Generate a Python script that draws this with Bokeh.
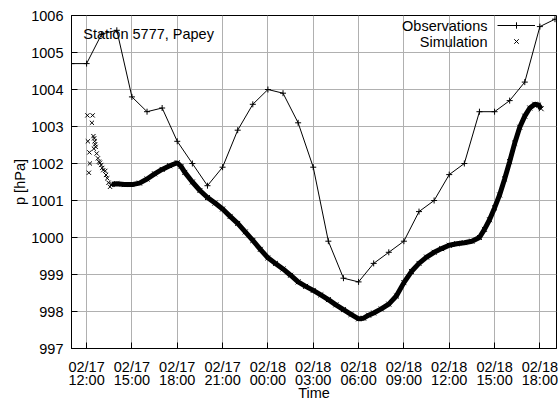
from datetime import datetime
from bokeh.plotting import figure
from bokeh.models import (Range1d, FixedTicker, DatetimeTickFormatter, DatetimeAxis,
                          Legend, LegendItem, Label)
from bokeh.embed import file_html
from bokeh.resources import INLINE

# ---------------- data ----------------
obs_time = ["02/17 11:00", "02/17 12:00", "02/17 13:00", "02/17 14:00", "02/17 15:00",
            "02/17 16:00", "02/17 17:00", "02/17 18:00", "02/17 19:00", "02/17 20:00",
            "02/17 21:00", "02/17 22:00", "02/17 23:00", "02/18 00:00", "02/18 01:00",
            "02/18 02:00", "02/18 03:00", "02/18 04:00", "02/18 05:00", "02/18 06:00",
            "02/18 07:00", "02/18 08:00", "02/18 09:00", "02/18 10:00", "02/18 11:00",
            "02/18 12:00", "02/18 13:00", "02/18 14:00", "02/18 15:00", "02/18 16:00",
            "02/18 17:00", "02/18 18:00", "02/18 19:00"]
obs_p = [1004.7, 1004.7, 1005.5, 1005.6, 1003.8, 1003.4, 1003.5, 1002.6, 1002.0, 1001.4,
         1001.9, 1002.9, 1003.6, 1004.0, 1003.9, 1003.1, 1001.9, 999.9, 998.9, 998.8,
         999.3, 999.6, 999.9, 1000.7, 1001.0, 1001.7, 1002.0, 1003.4, 1003.4, 1003.7,
         1004.2, 1005.7, 1005.9]

# simulation: spin-up phase (scattered points)
sim_spin_time = ["02/17 12:03", "02/17 12:24", "02/17 12:21", "02/17 12:05", "02/17 12:11",
                 "02/17 12:13", "02/17 12:09", "02/17 12:29", "02/17 12:27", "02/17 12:30",
                 "02/17 12:32", "02/17 12:34", "02/17 12:36", "02/17 12:40", "02/17 12:45",
                 "02/17 12:49", "02/17 12:53", "02/17 12:58", "02/17 13:02", "02/17 13:06",
                 "02/17 13:14", "02/17 13:17", "02/17 13:22", "02/17 13:27", "02/17 13:33",
                 "02/17 13:38"]
sim_spin_p = [1003.3, 1003.3, 1003.1, 1002.6, 1002.3,
              1002.0, 1001.75, 1002.4, 1002.74, 1002.68,
              1002.6, 1002.52, 1002.45, 1002.27, 1002.14,
              1002.05, 1002.02, 1001.96, 1001.88, 1001.82,
              1001.8, 1001.69, 1001.6, 1001.48, 1001.37,
              1001.42]

# simulation: main run
sim_time = ["02/17 13:40", "02/17 14:00", "02/17 14:30", "02/17 15:00", "02/17 15:30",
            "02/17 16:00", "02/17 16:30", "02/17 17:00", "02/17 17:30", "02/17 18:00",
            "02/17 18:15", "02/17 18:30", "02/17 19:00", "02/17 19:30", "02/17 20:00",
            "02/17 20:30", "02/17 21:00", "02/17 21:30", "02/17 22:00", "02/17 22:30",
            "02/17 23:00", "02/17 23:30", "02/18 00:00", "02/18 00:30", "02/18 01:00",
            "02/18 01:30", "02/18 02:00", "02/18 02:30", "02/18 03:00", "02/18 03:30",
            "02/18 04:00", "02/18 04:30", "02/18 05:00", "02/18 05:30", "02/18 06:00",
            "02/18 06:20", "02/18 06:40", "02/18 07:00", "02/18 07:30", "02/18 08:00",
            "02/18 08:30", "02/18 09:00", "02/18 09:30", "02/18 10:00", "02/18 10:30",
            "02/18 11:00", "02/18 11:30", "02/18 12:00", "02/18 12:30", "02/18 13:00",
            "02/18 13:30", "02/18 14:00", "02/18 14:20", "02/18 14:40", "02/18 15:00",
            "02/18 15:20", "02/18 15:40", "02/18 16:00", "02/18 16:20", "02/18 16:40",
            "02/18 17:00", "02/18 17:20", "02/18 17:40", "02/18 17:55", "02/18 18:05"]
sim_p = [1001.44, 1001.45, 1001.43, 1001.43, 1001.47,
         1001.58, 1001.72, 1001.84, 1001.94, 1002.02,
         1001.92, 1001.76, 1001.5, 1001.27, 1001.08,
         1000.93, 1000.77, 1000.57, 1000.38, 1000.15,
         999.92, 999.68, 999.45, 999.3, 999.15,
         998.98, 998.8, 998.68, 998.57, 998.45,
         998.32, 998.18, 998.05, 997.92, 997.8,
         997.82, 997.9, 997.96, 998.07, 998.2,
         998.42, 998.78, 999.08, 999.3, 999.47,
         999.6, 999.7, 999.79, 999.83, 999.86,
         999.9, 1000.0, 1000.22, 1000.48, 1000.8,
         1001.15, 1001.58, 1002.05, 1002.55, 1002.98,
         1003.28, 1003.5, 1003.6, 1003.58, 1003.48]

x_ticks = ["02/17 12:00", "02/17 15:00", "02/17 18:00", "02/17 21:00", "02/18 00:00",
           "02/18 03:00", "02/18 06:00", "02/18 09:00", "02/18 12:00", "02/18 15:00",
           "02/18 18:00"]
y_ticks = [997, 998, 999, 1000, 1001, 1002, 1003, 1004, 1005, 1006]
x_start, x_end = "02/17 11:00", "02/18 19:06"
y_start, y_end = 997, 1006

title_text = "Station 5777, Papey"
series_names = ["Observations", "Simulation"]


def to_dt(s):
    return datetime.strptime("2000/" + s, "%Y/%m/%d %H:%M")


def ms(s):
    return (to_dt(s) - datetime(1970, 1, 1)).total_seconds() * 1000.0


def dt_fmt(f):
    return DatetimeTickFormatter(
        microseconds=f, milliseconds=f, seconds=f, minsec=f, minutes=f,
        hourmin=f, hours=f, days=f, months=f, years=f)


FONT = "Liberation Sans"
FS = "14.5px"

p = figure(x_axis_type="datetime", width=558, height=403,
           min_border_left=71, min_border_top=15, min_border_right=2, min_border_bottom=54,
           x_range=Range1d(ms(x_start), ms(x_end)), y_range=Range1d(y_start, y_end),
           output_backend="svg", toolbar_location=None,
           background_fill_color="white", border_fill_color="white",
           outline_line_color="black", outline_line_width=1)

# grid
xt = FixedTicker(ticks=[ms(s) for s in x_ticks])
yt = FixedTicker(ticks=y_ticks)
p.xaxis.ticker = xt
p.yaxis.ticker = yt
p.xgrid.ticker = xt
p.ygrid.ticker = yt
for g in (p.xgrid[0], p.ygrid[0]):
    g.grid_line_color = "#b0b0b0"
    g.grid_line_width = 1

p.xaxis.formatter = dt_fmt("%m/%d")

for ax in (p.xaxis[0], p.yaxis[0]):
    ax.major_tick_in = 6
    ax.major_tick_out = 0
    ax.minor_tick_line_color = None
    ax.axis_line_color = "black"
    ax.major_tick_line_color = "black"
    ax.major_label_text_font = FONT
    ax.major_label_text_font_size = FS
    ax.major_label_text_color = "black"
    ax.axis_label_text_font = FONT
    ax.axis_label_text_font_size = FS
    ax.axis_label_text_font_style = "normal"
    ax.axis_label_text_color = "black"

p.xaxis.major_label_standoff = 10
p.yaxis.major_label_standoff = 8
p.yaxis.axis_label = "p [hPa]"
p.yaxis.axis_label_standoff = 0

# second row of time tick labels (hour:minute) + axis title
ax2 = DatetimeAxis(ticker=xt, formatter=dt_fmt("%H:%M"),
                   major_tick_in=0, major_tick_out=0, major_tick_line_color=None,
                   minor_tick_line_color=None, axis_line_color=None,
                   major_label_standoff=-6,
                   major_label_text_font=FONT, major_label_text_font_size=FS,
                   major_label_text_color="black",
                   axis_label="Time", axis_label_standoff=-6,
                   axis_label_text_font=FONT, axis_label_text_font_size=FS,
                   axis_label_text_font_style="normal", axis_label_text_color="black")
p.add_layout(ax2, "below")

# simulation
sim_x = [ms(s) for s in sim_time]
sim_line = p.line(sim_x, sim_p, line_color="black", line_width=5)
sim_pts = p.scatter(sim_x, sim_p, marker="x", size=7, line_color="black", line_width=1)
p.scatter([ms(s) for s in sim_spin_time], sim_spin_p, marker="x", size=6,
          line_color="black", line_width=1)

# observations
obs_x = [ms(s) for s in obs_time]
obs_line = p.line(obs_x, obs_p, line_color="black", line_width=1)
obs_pts = p.scatter(obs_x, obs_p, marker="cross", size=6, line_color="black", line_width=1)

# legend samples (gnuplot style: text right-aligned left of the sample)
legend = Legend(items=[LegendItem(label=" ", renderers=[obs_line, obs_pts]),
                       LegendItem(label=" ", renderers=[sim_pts])],
                location=(426, 299), glyph_width=38, glyph_height=16,
                label_width=0, label_height=16, label_standoff=0,
                label_text_font_size="1px", spacing=0, padding=0, margin=0,
                border_line_color=None, background_fill_alpha=0)
p.add_layout(legend)

p.add_layout(Label(x=ms("02/18 14:32"), y=1005.71, text=series_names[0],
                   text_align="right", text_baseline="middle",
                   text_font=FONT, text_font_size=FS, text_color="black"))
p.add_layout(Label(x=ms("02/18 14:32"), y=1005.29, text=series_names[1],
                   text_align="right", text_baseline="middle",
                   text_font=FONT, text_font_size=FS, text_color="black"))
p.add_layout(Label(x=ms("02/17 11:47"), y=1005.51, text=title_text,
                   text_align="left", text_baseline="middle",
                   text_font=FONT, text_font_size=FS, text_color="black"))

open("out.html", "w").write(file_html(p, INLINE))
